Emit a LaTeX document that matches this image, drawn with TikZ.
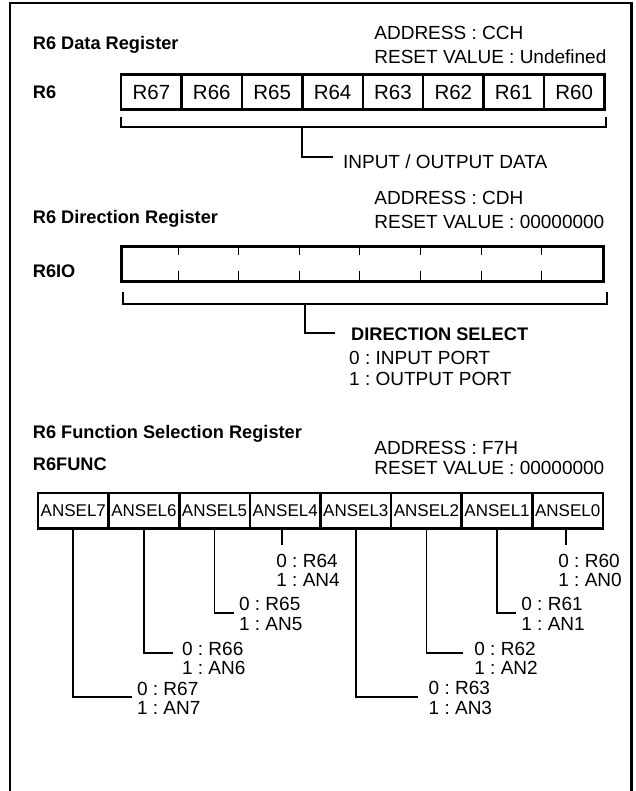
\documentclass[tikz,border=0pt]{standalone}
\usepackage{fontspec}
\setmainfont{Liberation Sans}
\usetikzlibrary{positioning}
\frenchspacing

\begin{document}
\begin{tikzpicture}[
            x=0.5pt, y=-0.5pt,
            font=\fontsize{9.5}{12}\selectfont,
            titulo/.style={font=\bfseries\fontsize{9.1}{11}\selectfont,
                           anchor=base west, inner sep=0pt},
            texto/.style={align=left, anchor=west, inner sep=0pt},
            celda/.style={draw, line width=1.2pt, inner sep=0pt, outer sep=0pt,
                          minimum width=30.2pt, minimum height=17.5pt,
                          font=\fontsize{10.25}{12}\selectfont},
            celdaan/.style={celda, line width=1.3pt, minimum width=35.31pt,
                            minimum height=17.85pt, font=\fontsize{8.5}{10}\selectfont},
            marco/.style={line width=1.35pt},
            corchete/.style={line width=1pt},
            rama/.style={line width=0.9pt},
            marca/.style={line width=0.5pt}
        ]

        \useasboundingbox (0,0) rectangle (636,791);

        % Marco exterior (abierto por abajo)
        \draw[marco] (10,800) -- (10,3) -- (631.7,3) -- (631.7,800);

        % --- Registro de datos ---
        \node[titulo] (t1) at (32.5,50)   {R6 Data Register};
        \node[texto]  (a1) at (374,45.3)  {ADDRESS : CCH\\RESET VALUE : Undefined};
        \node[titulo] (n1) at (32.5,98.3) {R6};
        \foreach \b [count=\k from 0] in {7,...,0}
            \node[celda] (r\b) at ({121.2+60.39*(\k+0.5)},92) {R6\b};

        \draw[corchete] (120.5,116.7) -- (120.5,126.7) -- (606,126.7) -- (606,116.7);
        \coordinate (dsal) at (302,126.7);
        \coordinate (dfin) at (333,157);
        \draw[corchete] (dsal) |- (dfin);
        \node[texto, anchor=base west] (dlab) at (342.7,168.3) {INPUT / OUTPUT DATA};

        % --- Registro de direccion ---
        \node[titulo] (t2) at (32.5,223) {R6 Direction Register};
        \node[texto, font=\fontsize{9.5}{11.7}\selectfont] (a2) at (374,210)
            {ADDRESS : CDH\\RESET VALUE : 00000000};
        \node[titulo] (n2) at (32.5,277) {R6IO};
        \draw[line width=1.6pt] (121.5,246.5) rectangle (603.5,281.8);
        \foreach \k in {1,...,7} {
            \draw[marca] ({117.7+60.57*\k},246.5) -- ++(0,8.5);
            \draw[marca] ({117.7+60.57*\k},270.7) -- ++(0,11.1);
        }

        \draw[corchete] (122.7,291.7) -- (122.7,304) -- (607.3,304) -- (607.3,291.7);
        \coordinate (ssal) at (305,304);
        \coordinate (sfin) at (334.7,333.3);
        \draw[corchete] (ssal) |- (sfin);
        \node[titulo] (slab) at (350.8,340.7) {DIRECTION SELECT};
        \node[texto, font=\fontsize{9.5}{10.65}\selectfont] (sopc) at (348.8,368.2)
            {0 : INPUT PORT\\1 : OUTPUT PORT};

        % --- Registro de seleccion de funcion ---
        \node[titulo] (t3) at (32.5,438.3) {R6 Function Selection Register};
        \node[titulo] (n3) at (32.5,470)   {R6FUNC};
        \node[texto, font=\fontsize{9.5}{10}\selectfont] (a3) at (374,458.3)
            {ADDRESS : F7H\\RESET VALUE : 00000000};
        \foreach \b [count=\k from 0] in {7,...,0}
            \node[celdaan] (s\b) at ({38+70.625*(\k+0.5)},510.8) {ANSEL\b};

        % opciones de cada bit
        \foreach \b/\x/\y in {7/136.7/698.3, 6/181.7/658.3, 5/238.7/614, 4/276/570.5,
                              3/428.3/698, 2/474/658.3, 1/521/614, 0/558/570.5}
            \node[texto, font=\fontsize{9.5}{9.75}\selectfont] (o\b) at (\x,\y)
                {0 : R6\b\\1 : AN\b};

        \foreach \b/\x/\y in {7/131.7/696.7, 6/173.3/653.3, 5/234/612.7,
                              3/418.3/696.7, 2/463.3/653.3, 1/516/612.7} {
            \coordinate (f\b) at (\x,\y);
            \draw[rama] (s\b.south) |- (f\b);
        }
        \draw[rama] ([xshift=-1.5pt]s4.south) -- ++(0,16);
        \draw[rama] ([xshift=-1pt]s0.south) -- ++(0,16);

\end{tikzpicture}
\end{document}
